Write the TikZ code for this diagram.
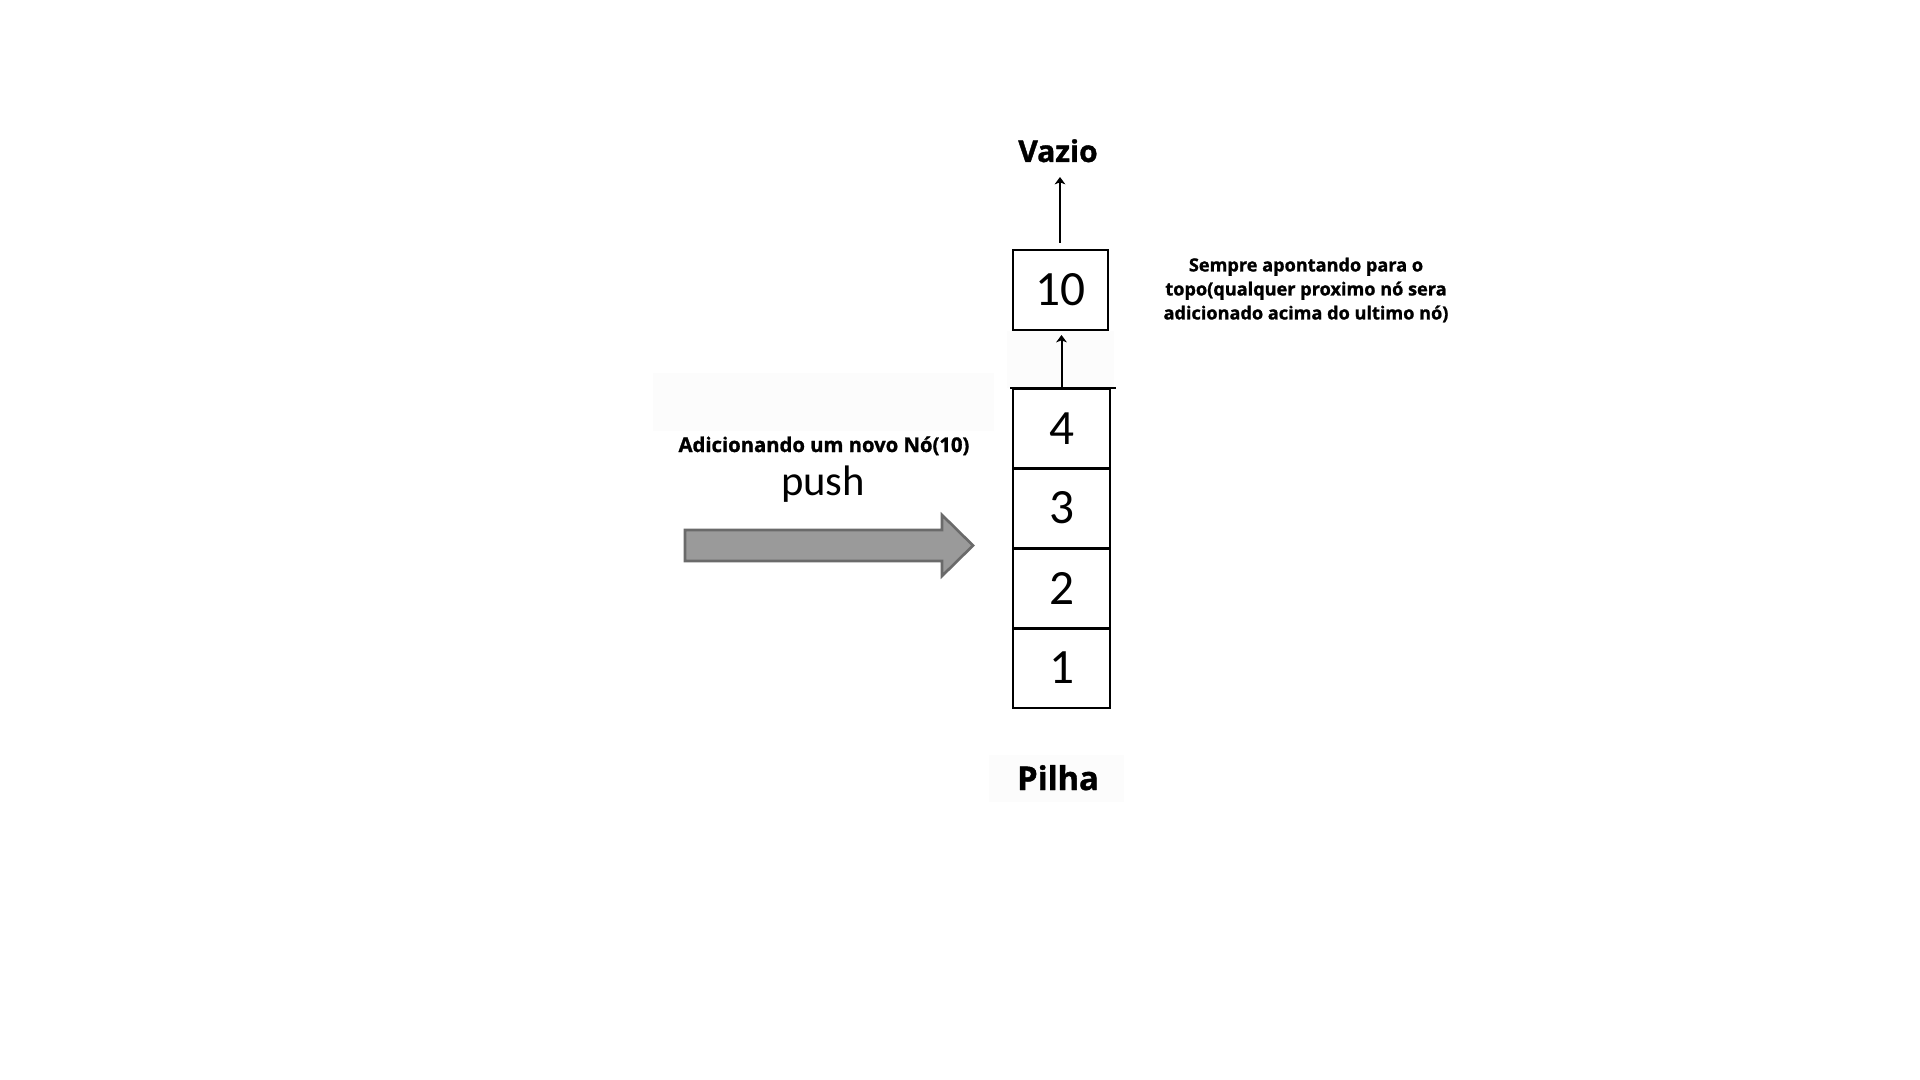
\documentclass[tikz,border=0pt]{standalone}
\usepackage{fontspec}
\setmainfont{Open Sans}[BoldFeatures={FakeBold=1.2}]
\newfontfamily\calib{Carlito}
\usetikzlibrary{arrows.meta}
\definecolor{arrfill}{HTML}{9A9A9A}
\definecolor{arrdraw}{HTML}{6A6A6A}
\definecolor{faint}{HTML}{FCFCFC}
\tikzset{
  cell/.style={draw=black, line width=1.5pt, minimum width=72.75pt, minimum height=59.25pt, inner sep=0pt,
    font=\calib\fontsize{37}{40}\selectfont},
  title/.style={font=\bfseries\fontsize{23.5}{28}\selectfont, anchor=base, inner sep=0pt},
  note/.style={font=\bfseries\fontsize{13.6}{18}\selectfont, align=center, inner sep=0pt},
  conn/.style={line width=1.5pt, -{Stealth[length=5.5pt,width=8pt,inset=1.5pt]}},
}
\begin{document}
\begin{tikzpicture}[x=0.75pt, y=-0.75pt]
\useasboundingbox (0,0) rectangle (1920,1080);
\fill[white] (0,0) rectangle (1920,1080);
% faint pasted-image backgrounds
\fill[faint] (653,373) rectangle (994,431);
\fill[faint] (1007,331) rectangle (1114,388);
\fill[faint] (989,755) rectangle (1124,802);

% stack cells
\node[cell] (c4) at (1061.5,428.5) {4};
\node[cell] (c3) at (1061.5,508) {3};
\node[cell] (c2) at (1061.5,588) {2};
\node[cell] (c1) at (1061.5,668) {1};
\node[cell, minimum width=71.25pt, minimum height=60pt] (c10) at (1060.5,290) {10};
\draw[line width=1.5pt] ([xshift=-1.5pt]c4.north west) -- ([xshift=4pt]c4.north east);

% labels
\node[title, font=\bfseries\fontsize{22.5}{28}\selectfont] (vazio) at (1058,162) {Vazio};
\node[title, font=\bfseries\fontsize{24.5}{28}\selectfont] (pilha) at (1058,790) {Pilha};
\coordinate (vtip) at (1060,177);

% connectors
\draw[conn] ([yshift=4.5pt]c10.north -| vtip) -- (vtip);
\draw[conn, shorten >=3pt] (c4.north) -- (c4.north |- c10.south);

% note
\node[note] (sempre) at (1306,290) {Sempre apontando para o\\topo(qualquer proximo nó sera\\adicionado acima do ultimo nó)};

% push arrow
\node[font=\bfseries\fontsize{15.2}{17}\selectfont, anchor=base, inner sep=0pt] (adic) at (824,452) {Adicionando um novo Nó(10)};
\node[font=\calib\fontsize{32}{36}\selectfont, anchor=base, inner sep=0pt] (push) at (823,495) {push};
\draw[fill=arrfill, draw=arrdraw, line width=2pt, line join=miter]
  (685,530) -- (942,530) -- (942,515) -- (973,545.5) -- (942,576) -- (942,561) -- (685,561) -- cycle;
\end{tikzpicture}
\end{document}
